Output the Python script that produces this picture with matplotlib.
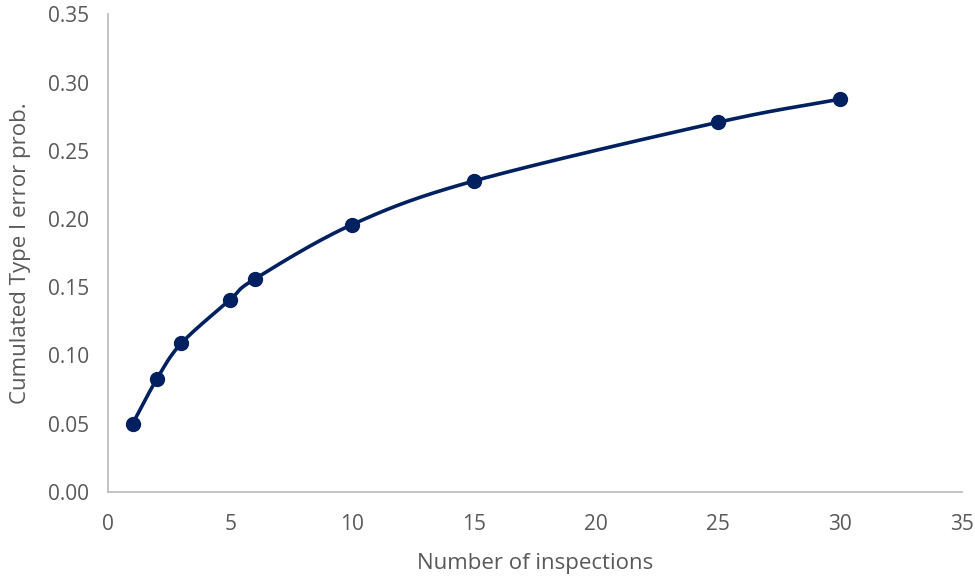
import numpy as np
import matplotlib
matplotlib.use("Agg")
from matplotlib import pyplot as plt

inspections = [1, 2, 3, 5, 6, 10, 15, 25, 30]
error_prob = [0.050, 0.083, 0.109, 0.141, 0.156, 0.196, 0.228, 0.271, 0.288]


def smooth(x, y, n=40):
    """Catmull-Rom style smoothing like Excel's smoothed line."""
    x = np.asarray(x, float)
    y = np.asarray(y, float)
    px = np.concatenate([[2 * x[0] - x[1]], x, [2 * x[-1] - x[-2]]])
    py = np.concatenate([[2 * y[0] - y[1]], y, [2 * y[-1] - y[-2]]])
    xs, ys = [], []
    t = np.linspace(0, 1, n)
    for i in range(1, len(px) - 2):
        for p, out in ((px, xs), (py, ys)):
            p0, p1, p2, p3 = p[i - 1], p[i], p[i + 1], p[i + 2]
            # tangents scaled by 1/6 (bezier control points)
            c1 = p1 + (p2 - p0) / 6
            c2 = p2 - (p3 - p1) / 6
            out.append((1 - t) ** 3 * p1 + 3 * (1 - t) ** 2 * t * c1
                       + 3 * (1 - t) * t ** 2 * c2 + t ** 3 * p2)
    return np.concatenate(xs), np.concatenate(ys)


plt.rcParams['font.family'] = ['Open Sans', 'DejaVu Sans']
text_color = '#595959'
line_color = '#002060'

fig = plt.figure(figsize=(9.75, 5.78), dpi=100)
ax = fig.add_axes([0.111, 0.149, 0.876, 0.826])

sx, sy = smooth(inspections, error_prob)
ax.plot(sx, sy, color=line_color, lw=2.6, zorder=2)
ax.plot(inspections, error_prob, 'o', color=line_color, ms=10, zorder=3)

ax.set_xlim(0, 35)
ax.set_ylim(0, 0.35)
ax.set_xticks(np.arange(0, 36, 5))
ax.set_yticks(np.arange(0, 0.351, 0.05))
ax.yaxis.set_major_formatter(matplotlib.ticker.FormatStrFormatter('%.2f'))

for side in ('top', 'right'):
    ax.spines[side].set_visible(False)
for side in ('left', 'bottom'):
    ax.spines[side].set_color('#bfbfbf')
    ax.spines[side].set_linewidth(1.3)
ax.tick_params(axis='y', length=0, labelsize=15, colors=text_color, pad=14)
ax.tick_params(axis='x', length=0, labelsize=15, colors=text_color, pad=16)

ax.set_xlabel('Number of inspections', fontsize=16, color=text_color, labelpad=13)
ax.set_ylabel('Cumulated Type I error prob.', fontsize=16, color=text_color, labelpad=12)

fig.savefig('out.png', dpi=100)
